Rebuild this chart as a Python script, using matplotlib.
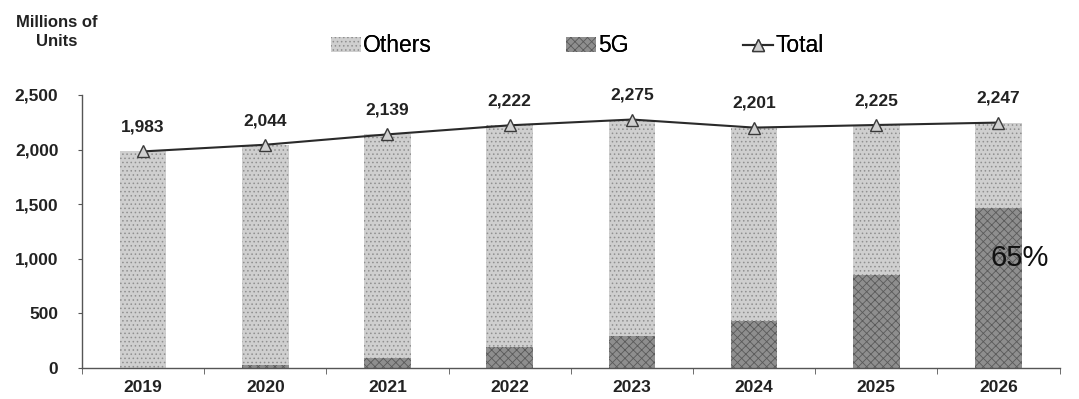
import matplotlib
matplotlib.use('Agg')
import matplotlib.pyplot as plt
import numpy as np
from matplotlib.ticker import FuncFormatter, FixedLocator

plt.rcParams['font.family'] = ['Liberation Sans', 'DejaVu Sans']
plt.rcParams['hatch.linewidth'] = 0.6

years = ['2019', '2020', '2021', '2022', '2023', '2024', '2025', '2026']
total = np.array([1983, 2044, 2139, 2222, 2275, 2201, 2225, 2247])
fiveg = np.array([0, 25, 90, 190, 290, 430, 850, 1460])
others = total - fiveg

fig = plt.figure(figsize=(10.79, 3.99), dpi=100)
ax = fig.add_axes([0.076, 0.078, 0.906, 0.684])

x = np.arange(len(years))
w = 0.38
b5 = ax.bar(x, fiveg, w, color='#8e8e8e', edgecolor='#5a5a5a', hatch='xxxx', linewidth=0)
bo = ax.bar(x, others, w, bottom=fiveg, color='#cfcfcf', edgecolor='#8f8f8f', hatch='....', linewidth=0)
ln, = ax.plot(x, total, color='#2a2a2a', lw=1.5, marker='^', markersize=9,
              markerfacecolor='#cfcfcf', markeredgecolor='#3a3a3a')

for xi, t in zip(x, total):
    ax.annotate(f'{t:,}', (xi, t), xytext=(0, 12), textcoords='offset points',
                ha='center', va='bottom', fontsize=12.5, fontweight='bold', color='#222222')

ax.text(x[-1] + 0.17, 1005, f'{fiveg[-1] / total[-1]:.0%}', ha='center', va='center',
        fontsize=21, color='#111111')

ax.set_xlim(-0.5, 7.5)
ax.set_ylim(0, 2500)
ax.set_yticks([0, 500, 1000, 1500, 2000, 2500])
ax.yaxis.set_major_formatter(FuncFormatter(lambda v, p: f'{int(v):,}'))
ax.set_xticks(x)
ax.set_xticklabels(years)
ax.xaxis.set_minor_locator(FixedLocator(np.arange(-0.5, 8, 1)))
ax.tick_params(axis='x', which='major', length=0, pad=9)
ax.tick_params(axis='x', which='minor', length=4, color='#555555')
ax.tick_params(axis='y', length=3, color='#555555', pad=14)
for lab in ax.get_xticklabels() + ax.get_yticklabels():
    lab.set_fontweight('bold')
    lab.set_fontsize(12.5)
    lab.set_color('#222222')

for s in ['top', 'right']:
    ax.spines[s].set_visible(False)
for s in ['left', 'bottom']:
    ax.spines[s].set_color('#555555')
    ax.spines[s].set_linewidth(1.0)

fig.text(0.053, 0.92, 'Millions of\nUnits', ha='center', va='center',
         fontsize=12, fontweight='bold', color='#222222', linespacing=1.4)

for handle, label, xpos in [(bo, 'Others', 0.307), (b5, '5G', 0.525), (ln, 'Total', 0.689)]:
    leg = fig.legend([handle], [label], loc='center left', bbox_to_anchor=(xpos, 0.885),
                     frameon=False, fontsize=16.5, handlelength=1.3, handleheight=0.6,
                     handletextpad=0.1, borderpad=0, borderaxespad=0)
    fig.add_artist(leg)

fig.savefig('out.png', dpi=100)
